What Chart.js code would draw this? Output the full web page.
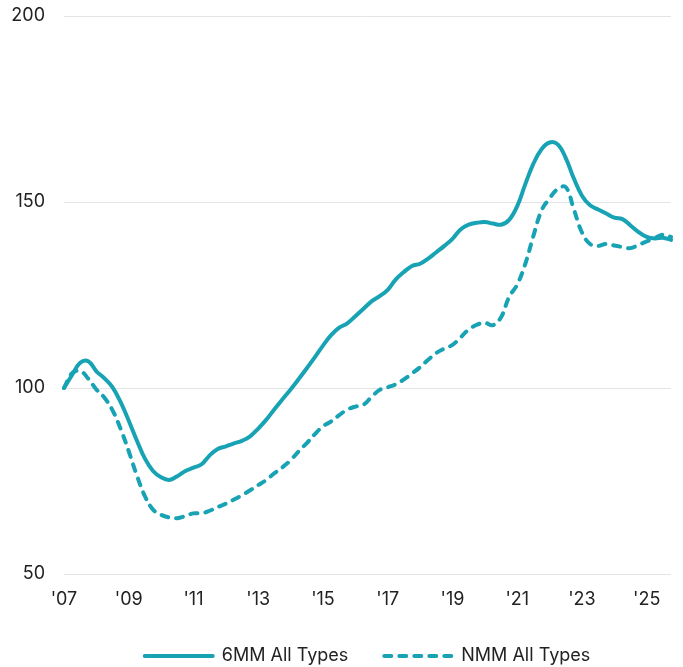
<!DOCTYPE html>
<html>
<head>
<meta charset="utf-8">
<script src="https://cdn.jsdelivr.net/npm/chart.js@4/dist/chart.umd.min.js"></script>
<style>
  html, body { margin: 0; padding: 0; background: #ffffff; }
  #wrap { position: relative; width: 683px; height: 667px; }
</style>
</head>
<body>
<div id="wrap"><canvas id="chart"></canvas></div>
<script>
// Quarterly index levels, Q1 2007 = 100, from Q1 2007 to Q4 2025
const quarters = [];
for (let y = 2007; y <= 2025; y++) {
  for (let q = 1; q <= 4; q++) quarters.push(y + '-Q' + q);
}

const sixMM = [
  100, 103.5, 106.8, 107.2, 104.5, 102.6, 100.2, 96.2,
  91.2, 85.9, 81.0, 77.7, 76.0, 75.3, 76.3, 77.7,
  78.6, 79.5, 81.9, 83.6, 84.3, 85.1, 85.8, 87.0,
  89.1, 91.5, 94.3, 97.0, 99.6, 102.4, 105.3, 108.3,
  111.4, 114.2, 116.2, 117.4, 119.3, 121.3, 123.3, 124.7,
  126.4, 129.2, 131.2, 132.8, 133.4, 134.8, 136.5, 138.2,
  140.1, 142.6, 143.9, 144.4, 144.6, 144.2, 143.9, 145.2,
  148.9, 154.8, 160.3, 164.2, 166.0, 165.5, 161.8, 156.3,
  151.7, 149.1, 148.0, 146.9, 145.8, 145.4, 143.7, 141.9,
  140.6, 140.2, 140.4, 139.8
];

const nmm = [
  100, 104.0, 104.6, 102.5, 99.6, 97.4, 94.0, 89.0,
  83.0, 76.5, 70.9, 67.3, 65.9, 65.2, 65.0, 65.6,
  66.3, 66.3, 67.0, 68.0, 68.9, 70.0, 71.2, 72.5,
  73.9, 75.3, 77.1, 78.7, 80.6, 83.0, 85.2, 87.6,
  89.7, 91.0, 92.7, 94.2, 95.0, 95.5, 97.6, 99.5,
  100.2, 101.0, 102.3, 103.9, 105.6, 107.6, 109.4, 110.6,
  111.6, 113.6, 115.7, 117.0, 117.5, 116.9, 119.0, 124.5,
  127.8, 133.4, 140.9, 147.7, 151.0, 153.5, 154.0, 148.0,
  141.8, 138.7, 138.2, 138.7, 138.3, 137.9, 137.6, 138.5,
  139.4, 140.3, 141.2, 140.6
];

const seriesNames = ['6MM All Types', 'NMM All Types'];
const yTicks = [50, 100, 150, 200];

const teal = '#18a3b4';
const lineW = 4;
const dash = [7, 8];
const font = { family: 'Inter', size: 18 };

new Chart(document.getElementById('chart'), {
  type: 'line',
  data: {
    labels: quarters,
    datasets: [
      {
        label: seriesNames[0],
        data: sixMM,
        borderColor: teal,
        backgroundColor: teal,
        borderWidth: lineW,
        tension: 0.4,
        pointRadius: 0,
        borderCapStyle: 'round',
        borderJoinStyle: 'round'
      },
      {
        label: seriesNames[1],
        data: nmm,
        borderColor: teal,
        backgroundColor: teal,
        borderWidth: lineW,
        borderDash: dash,
        borderCapStyle: 'round',
        tension: 0.4,
        pointRadius: 0
      }
    ]
  },
  options: {
    responsive: true,
    maintainAspectRatio: false,
    animation: false,
    layout: { padding: { left: 0, right: 12, top: 0, bottom: 0 } },
    plugins: {
      tooltip: { enabled: false },
      legend: {
        position: 'bottom',
        fullSize: false,
        maxHeight: 56,
        labels: {
          usePointStyle: true,
          pointStyle: 'line',
          pointStyleWidth: 68,
          boxWidth: 68,
          boxHeight: 12,
          padding: 36,
          color: '#222222',
          font: font,
          generateLabels: function (chart) {
            return chart.data.datasets.map((ds, i) => ({
              text: ds.label,
              datasetIndex: i,
              fillStyle: ds.backgroundColor,
              strokeStyle: ds.borderColor,
              lineWidth: ds.borderWidth,
              lineDash: ds.borderDash || [],
              lineCap: 'round',
              pointStyle: 'line',
              fontColor: '#222222',
              hidden: false
            }));
          }
        }
      }
    },
    scales: {
      x: {
        type: 'category',
        offset: false,
        grid: { display: false, drawTicks: false },
        border: { display: false },
        afterFit: function (scale) { scale.height = 37; },
        ticks: {
          autoSkip: false,
          maxRotation: 0,
          color: '#222222',
          font: font,
          padding: 15,
          callback: function (val, idx) {
            const lab = quarters[idx];
            const yr = parseInt(lab.slice(0, 4), 10);
            if (lab.endsWith('Q1') && yr % 2 === 1) return "'" + String(yr).slice(2);
            return null;
          }
        }
      },
      y: {
        min: 50,
        max: 200,
        afterBuildTicks: function (scale) {
          scale.ticks = yTicks.map(v => ({ value: v }));
        },
        afterFit: function (scale) {
          scale.width = 64;
          scale.paddingTop = 16;
          scale.paddingBottom = 0;
        },
        grid: { color: '#e4e4e4', lineWidth: 1, drawTicks: false },
        border: { display: false },
        ticks: {
          crossAlign: 'near',
          color: '#222222',
          font: font,
          padding: 19
        }
      }
    }
  }
});
</script>
</body>
</html>
